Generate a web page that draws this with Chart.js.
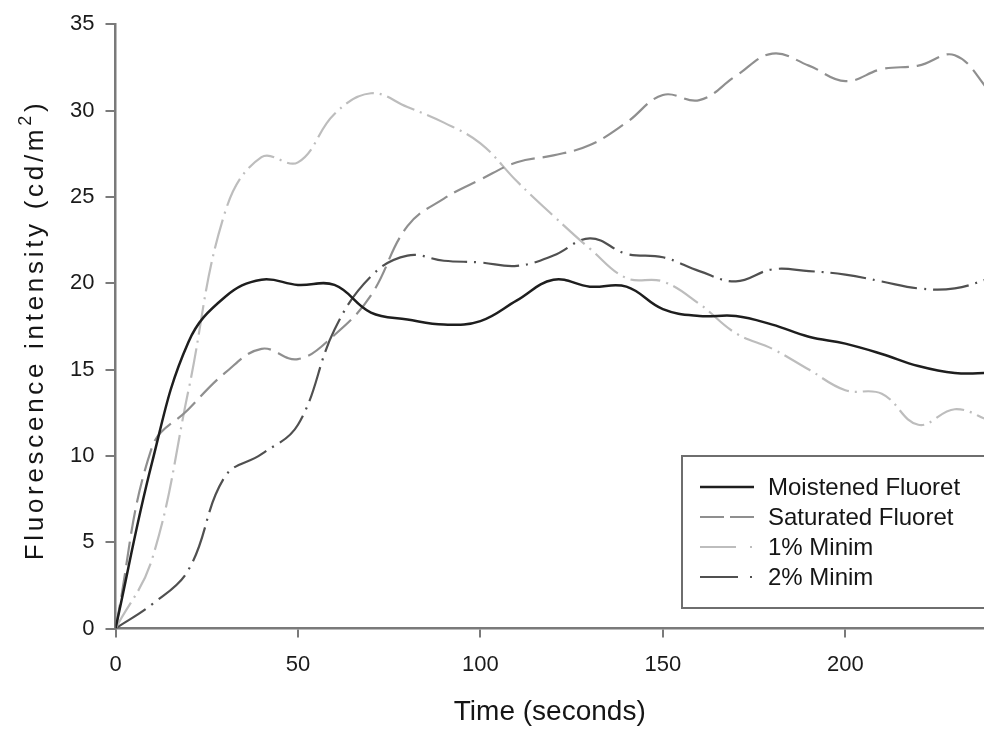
<!DOCTYPE html>
<html>
<head>
<meta charset="utf-8">
<script src="https://cdn.jsdelivr.net/npm/chart.js@4/dist/chart.umd.min.js"></script>
<style>
  html, body { margin: 0; padding: 0; background: #fff; overflow: hidden; }
  #wrap { width: 984px; height: 730px; }
</style>
</head>
<body>
<div id="wrap"><canvas id="chart" width="984" height="730"></canvas></div>
<script>
// Data (time in seconds, intensity in cd/m2)
const times = [0, 10, 20, 30, 40, 50, 60, 70, 80, 90, 100, 110, 120, 130, 140, 150, 160, 170, 180, 190, 200, 210, 220, 230, 240];
const moistened = [0, 9.6, 16.6, 19.2, 20.2, 19.9, 19.9, 18.3, 17.9, 17.6, 17.8, 19.0, 20.2, 19.8, 19.8, 18.5, 18.1, 18.1, 17.6, 16.9, 16.5, 15.9, 15.2, 14.8, 14.8];
const saturated = [0, 10.5, 12.7, 14.8, 16.2, 15.6, 17.0, 19.3, 23.3, 24.9, 26.0, 27.0, 27.4, 28.0, 29.3, 30.9, 30.6, 32.0, 33.3, 32.6, 31.7, 32.4, 32.6, 33.2, 31.0];
const onePct = [0, 4.0, 13.8, 24.1, 27.3, 27.0, 29.8, 31.0, 30.2, 29.3, 28.1, 25.9, 23.9, 22.0, 20.3, 20.1, 18.8, 17.1, 16.2, 15.0, 13.8, 13.6, 11.8, 12.7, 12.0];
const twoPct = [0, 1.4, 3.4, 8.8, 10.1, 11.8, 17.3, 20.4, 21.6, 21.3, 21.2, 21.0, 21.6, 22.6, 21.7, 21.5, 20.7, 20.1, 20.8, 20.7, 20.5, 20.1, 19.7, 19.7, 20.3];
const seriesNames = ['Moistened Fluoret', 'Saturated Fluoret', '1% Minim', '2% Minim'];
const xTicks = [0, 50, 100, 150, 200];
const yTicks = [0, 5, 10, 15, 20, 25, 30, 35];

const FONT = '"Liberation Sans", Arial, sans-serif';
// dash look of the short legend samples (a long dash then one dot)
const legendDash = [[], [24, 6], [36, 14, 2, 60], [38, 12, 2, 60]];

function pts(vals) {
  return vals.map((v, i) => ({ x: times[i], y: v }));
}

// legend drawn as a framed box inside the plot, lower right, plus the y title
const boxLegend = {
  id: 'boxLegend',
  afterDraw(chart) {
    const ctx = chart.ctx;
    ctx.save();
    ctx.strokeStyle = '#6e6e6e';
    ctx.lineWidth = 2;
    ctx.strokeRect(682, 456, 320, 152);
    ctx.font = '24px ' + FONT;
    ctx.textBaseline = 'middle';
    ctx.fillStyle = '#151515';
    chart.data.datasets.forEach((ds, i) => {
      const y = 487 + i * 30;
      ctx.beginPath();
      ctx.strokeStyle = ds.borderColor;
      ctx.lineWidth = ds.borderWidth;
      ctx.setLineDash(legendDash[i]);
      ctx.moveTo(700, y);
      ctx.lineTo(754, y);
      ctx.stroke();
      ctx.setLineDash([]);
      ctx.fillText(ds.label, 768, y + 1);
    });
    // y axis title with superscript
    ctx.translate(36, 330);
    ctx.rotate(-Math.PI / 2);
    ctx.font = '26px ' + FONT;
    ctx.letterSpacing = '3.7px';
    ctx.fillStyle = '#151515';
    const main = 'Fluorescence intensity (cd/m';
    const wMain = ctx.measureText(main).width;
    ctx.font = '18px ' + FONT;
    const wSup = ctx.measureText('2').width;
    ctx.font = '26px ' + FONT;
    const wEnd = ctx.measureText(')').width;
    let x = -(wMain + wSup + wEnd) / 2;
    ctx.textAlign = 'left';
    ctx.fillText(main, x, 0);
    x += wMain;
    ctx.font = '18px ' + FONT;
    ctx.fillText('2', x, -10);
    x += wSup;
    ctx.font = '26px ' + FONT;
    ctx.fillText(')', x, 0);
    ctx.restore();
  }
};

new Chart(document.getElementById('chart'), {
  type: 'line',
  data: {
    datasets: [
      { label: seriesNames[0], data: pts(moistened), borderColor: '#1e1e1e', borderWidth: 2.5, borderDash: [] },
      { label: seriesNames[1], data: pts(saturated), borderColor: '#8f8f8f', borderWidth: 2.2, borderDash: [24, 8] },
      { label: seriesNames[2], data: pts(onePct), borderColor: '#bdbdbd', borderWidth: 2.2, borderDash: [30, 6, 2, 6] },
      { label: seriesNames[3], data: pts(twoPct), borderColor: '#505050', borderWidth: 2.2, borderDash: [36, 7, 2, 7] }
    ]
  },
  options: {
    responsive: false,
    animation: false,
    devicePixelRatio: 1,
    events: [],
    layout: { padding: { top: 18, left: 0, right: 0, bottom: 0 } },
    elements: {
      point: { radius: 0 },
      line: { tension: 0.4, fill: false }
    },
    plugins: {
      legend: { display: false },
      tooltip: { enabled: false }
    },
    scales: {
      x: {
        type: 'linear',
        min: 0,
        max: 238,
        afterFit(s) { s.height = 101.5; },
        afterBuildTicks(s) { s.ticks = xTicks.map(v => ({ value: v })); },
        ticks: { font: { family: FONT, size: 22 }, color: '#1a1a1a', padding: 14, maxRotation: 0 },
        grid: { drawOnChartArea: false, drawTicks: true, tickLength: 9, color: '#7a7a7a', lineWidth: 2 },
        border: { color: '#7a7a7a', width: 2.5 },
        title: { display: true, text: 'Time (seconds)', font: { family: FONT, size: 28 }, color: '#151515', padding: { top: 0, bottom: 1 } }
      },
      y: {
        min: 0,
        max: 35,
        afterFit(s) { s.width = 115.5; },
        afterBuildTicks(s) { s.ticks = yTicks.map(v => ({ value: v })); },
        ticks: { font: { family: FONT, size: 22 }, color: '#1a1a1a', padding: 11 },
        grid: { drawOnChartArea: false, drawTicks: true, tickLength: 10, color: '#7a7a7a', lineWidth: 2 },
        border: { color: '#7a7a7a', width: 2.5 }
      }
    }
  },
  plugins: [boxLegend]
});
</script>
</body>
</html>
